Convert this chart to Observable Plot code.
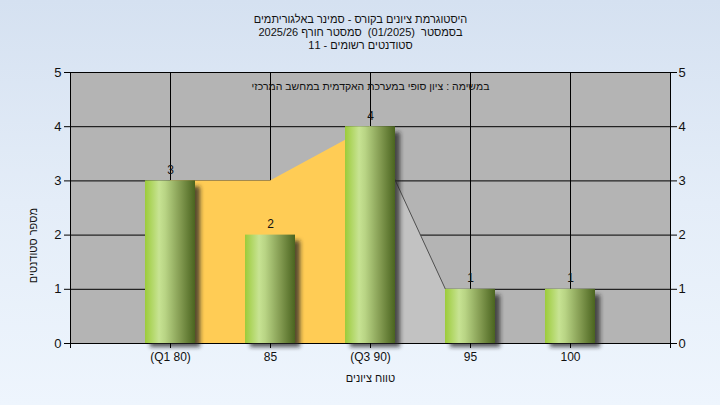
<!DOCTYPE html>
<html>
<head>
<meta charset="utf-8">
<script src="https://cdn.jsdelivr.net/npm/d3@7"></script>
<script src="https://cdn.jsdelivr.net/npm/@observablehq/plot@0.6"></script>
<style>
  html, body { margin: 0; padding: 0; }
  body { width: 720px; height: 405px; overflow: hidden;
         background: linear-gradient(to bottom, #d5e1f1 0%, #e4edf8 50%, #eef5fd 100%); }
  #chart svg { display: block; }
</style>
</head>
<body>
<div id="chart"></div>
<script>
// ---- data ----
const scores = [80, 85, 90, 95, 100];
const tickLabels = ["(Q1 80)", "85", "(Q3 90)", "95", "100"];
const counts = [3, 2, 4, 1, 1];
const iqrScores = [80, 85, 90];
const iqrValues = [3, 3, 4];
const upperScores = [90, 95, 100];
const upperValues = [4, 0, 0];
const yTicks = [0, 1, 2, 3, 4, 5];
const titleLines = [
  "היסטוגרמת ציונים בקורס - סמינר באלגוריתמים",
  "בסמסטר  (01/2025)  סמסטר חורף 2025/26",
  "סטודנטים רשומים - 11"
];
const noteText = "במשימה : ציון סופי במערכת האקדמית במחשב המרכזי";
const xTitle = "טווח ציונים";
const yTitle = "מספר סטודנטים";

// ---- tables ----
const bars = scores.map((s, i) => ({score: s, count: counts[i]}));
const iqr = iqrScores.map((s, i) => ({score: s, value: iqrValues[i]}));
const upper = upperScores.map((s, i) => ({score: s, value: upperValues[i]}));
const labelMap = new Map(scores.map((s, i) => [s, tickLabels[i]]));
const halfWidth = 1.25;

const font = "'Liberation Sans', 'DejaVu Sans', Arial, sans-serif";

const chart = Plot.plot({
  width: 720,
  height: 405,
  marginTop: 72,
  marginBottom: 62,
  marginLeft: 70,
  marginRight: 50,
  style: {background: "transparent", fontFamily: font, fontSize: "12px", color: "#111", overflow: "visible"},
  x: {domain: [75, 105]},
  y: {domain: [0, 5]},
  marks: [
    Plot.frame({fill: "#b4b4b4", stroke: null}),
    Plot.gridY({ticks: yTicks, stroke: "#000", strokeOpacity: 1}),
    Plot.gridX({ticks: scores, stroke: "#000", strokeOpacity: 1}),
    Plot.areaY(iqr, {x: "score", y: "value", fill: "#ffcc55"}),
    Plot.areaY(upper, {x: "score", y: "value", fill: "#c2c2c2"}),
    Plot.lineY(upper, {x: "score", y: "value", stroke: "#505050", strokeWidth: 1}),
    Plot.frame({stroke: "#000", strokeWidth: 1}),
    Plot.rectY(bars, {x1: d => d.score - halfWidth, x2: d => d.score + halfWidth, y1: 0, y2: "count",
      fill: "#222", fillOpacity: 0.75, dx: 5, dy: 4, insetTop: 2}),
    Plot.rectY(bars, {x1: d => d.score - halfWidth, x2: d => d.score + halfWidth, y1: 0, y2: "count",
      fill: "url(#barGrad)"}),
    Plot.text(bars, {x: "score", y: "count", text: d => String(d.count), dy: -11, fontSize: 12, fill: "#111"}),
    Plot.axisY({ticks: yTicks, anchor: "left", tickSize: 6, tickPadding: 3, fontSize: 13, label: null, stroke: "#000", tickFormat: "d"}),
    Plot.axisY({ticks: yTicks, anchor: "right", tickSize: 6, tickPadding: 2, fontSize: 13, label: null, stroke: "#000", tickFormat: "d"}),
    Plot.axisX({ticks: [75, ...scores, 105], anchor: "bottom", tickSize: 5, tickPadding: 4, fontSize: 12,
      tickFormat: d => labelMap.get(d) ?? "", label: null, stroke: "#000"}),
    Plot.text([titleLines[0]], {frameAnchor: "top", text: d => d, dy: -57, fontSize: 11, fill: "#111"}),
    Plot.text([titleLines[1]], {frameAnchor: "top", text: d => d, dy: -44, fontSize: 11, fill: "#111"}),
    Plot.text([titleLines[2]], {frameAnchor: "top", text: d => d, dy: -31, fontSize: 11, fill: "#111"}),
    Plot.text([noteText], {frameAnchor: "top", text: d => d, dy: 10, fontSize: 10.5, fill: "#111"}),
    Plot.text([xTitle], {frameAnchor: "bottom", text: d => d, dy: 38, fontSize: 11, fill: "#111"}),
    Plot.text([yTitle], {frameAnchor: "left", text: d => d, dx: -37, rotate: -90, fontSize: 11, fill: "#111"})
  ]
});

const svg = d3.select(chart);
const defs = svg.insert("defs", ":first-child");
const g = defs.append("linearGradient").attr("id", "barGrad").attr("x1", "0").attr("x2", "1").attr("y1", "0").attr("y2", "0");
[["0%", "#9ccb3a"], ["28%", "#c7e393"], ["40%", "#b9d585"], ["70%", "#849c52"], ["100%", "#4a641f"]]
  .forEach(([o, c]) => g.append("stop").attr("offset", o).attr("stop-color", c));
const f = defs.append("filter").attr("id", "shadowBlur").attr("x", "-20%").attr("y", "-20%").attr("width", "140%").attr("height", "140%");
f.append("feGaussianBlur").attr("stdDeviation", 2);

const rects = svg.selectAll("g[aria-label='rect']");
rects.filter((d, i) => i === 0).attr("filter", "url(#shadowBlur)");

svg.selectAll("text").each(function() {
  if (/[\u0590-\u05FF]/.test(this.textContent)) this.setAttribute("direction", "rtl");
});
// title lines centred at figure centre rather than the frame centre
svg.selectAll("g[aria-label='text'] text").each(function() {
  const t = this.textContent;
  if (titleLines.includes(t)) {
    const tr = this.getAttribute("transform") || "";
    this.setAttribute("transform", tr + " translate(-10,0)");
  }
});

document.getElementById("chart").appendChild(chart);
</script>
</body>
</html>
